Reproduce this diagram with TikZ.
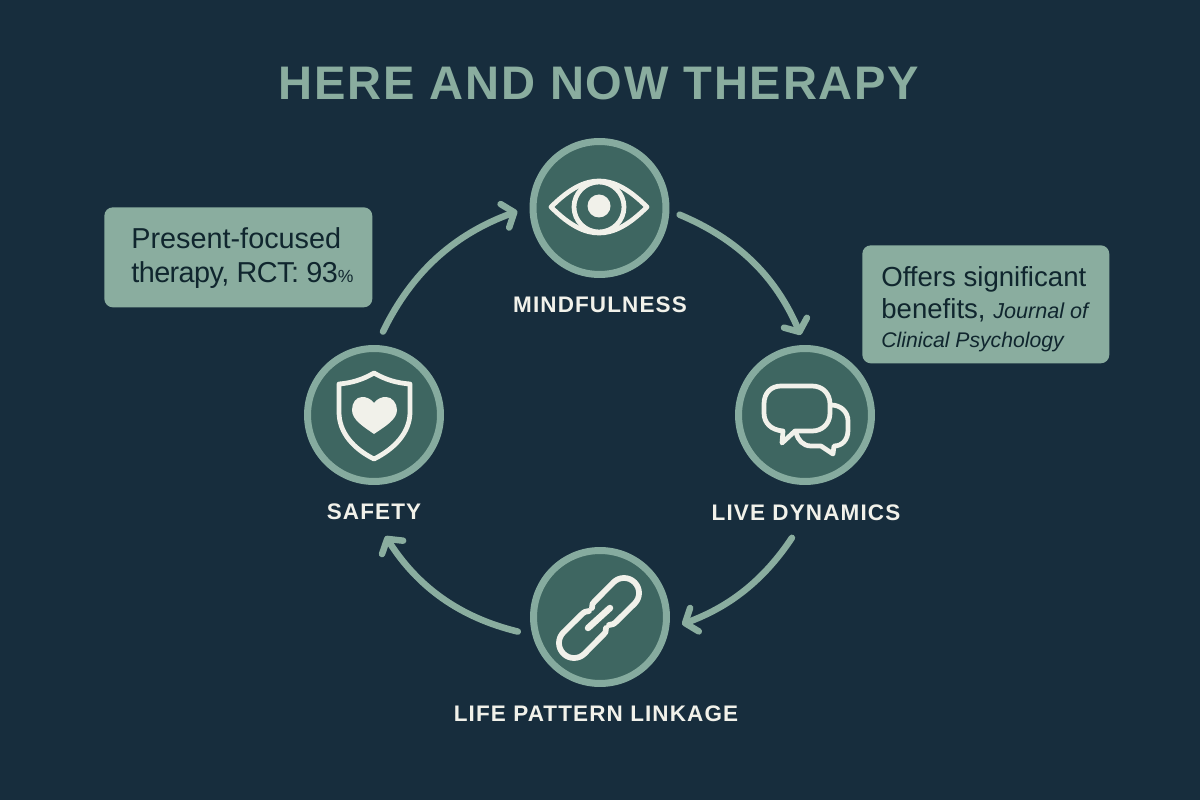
\documentclass[tikz,border=0pt]{standalone}
\usepackage{fontspec}
\setmainfont{Liberation Sans}
\newfontfamily\titlefont[LetterSpace=3.8]{Liberation Sans}
\newfontfamily\capsfont[LetterSpace=5]{Liberation Sans}
\newfontfamily\tightfont[LetterSpace=-2]{Liberation Sans}
\usepackage{xcolor}
\usetikzlibrary{arrows.meta}
\definecolor{bgdark}{HTML}{172D3D}
\definecolor{sage}{HTML}{8AAD9F}
\definecolor{ringsage}{HTML}{86AB9F}
\definecolor{discgreen}{HTML}{3E6661}
\definecolor{ivory}{HTML}{F1F1EA}
\definecolor{boxtext}{HTML}{10262E}
\tikzset{
  disc/.style={circle,draw=ringsage,fill=discgreen,line width=0.14cm,minimum size=2.66cm,inner sep=0pt},
  flow/.style={draw=sage,line width=0.13cm,line cap=round,-{Straight Barb[round,length=0.2cm,width=0.5cm]}},
  caption/.style={text=ivory,font=\capsfont\bfseries\fontsize{12.8}{15}\selectfont,inner sep=0pt,minimum height=0.48cm},
  notebox/.style={fill=sage,rounded corners=0.17cm,anchor=north west,inner sep=0pt},
  notetext/.style={text=boxtext,align=left,inner sep=0pt,anchor=base west},
  icon/.style={draw=ivory,line width=0.095cm,line join=round,line cap=round},
  linkline/.style={icon,line width=0.115cm},
  iconfill/.style={fill=ivory}
}
\begin{document}
\begin{tikzpicture}[x=0.02cm,y=-0.02cm]
 \fill[bgdark] (0,0) rectangle (1200,800);
 \useasboundingbox (0,0) rectangle (1200,800);

 \node[text=sage,font=\titlefont\bfseries\fontsize{26.8}{30}\selectfont,inner sep=0pt] (title) at (599,83) {HERE AND NOW THERAPY};

 \node[disc] (eye) at (599.5,208) {};
 \node[disc] (chat) at (805,415) {};
 \node[disc] (chain) at (600,617) {};
 \node[disc] (shield) at (374,415) {};

 \node[caption] (lblmind) at (600,305) {MINDFULNESS};
 \node[caption] (lbldyn) at (806,513) {LIVE DYNAMICS};
 \node[caption] (lblchain) at (596,714) {LIFE PATTERN LINKAGE};
 \node[caption] (lblsafe) at (374,512) {SAFETY};

 \draw[flow,shorten <=0.22cm,shorten >=0.22cm] (eye.358) to[bend left=22] (chat.90);
 \draw[flow,shorten <=0.3cm,shorten >=0.28cm] (lbldyn.245) to[bend left=18] (chain.350);
 \draw[flow,shorten <=0.3cm,shorten >=0.28cm] (chain.195) to[bend left=22] (lblsafe.288);
 \draw[flow,shorten <=0.3cm,shorten >=0.26cm] (shield.88) to[bend left=22] (eye.179);

 % eye
 \draw[icon] (551,207) .. controls (570,188) and (585,181) .. (599,181) .. controls (613,181) and (628,188) .. (647,207)
   .. controls (628,226) and (613,233) .. (599,233) .. controls (585,233) and (570,226) .. (551,207) -- cycle;
 \draw[icon] (599,207) circle (25);
 \path[iconfill] (599,206) circle (11.5);

 % speech bubbles
 \draw[icon] (781,386) -- (812,386) .. controls (823,386) and (830,394) .. (830,404) -- (830,413)
   .. controls (830,424) and (822,431) .. (812,431) -- (795,431) -- (782,443) -- (783,431)
   .. controls (771,430) and (764,423) .. (764,413) -- (764,404) .. controls (764,393) and (771,386) .. (781,386) -- cycle;
 \draw[icon] (831,405) .. controls (841,405) and (848,412) .. (848,421) -- (848,430)
   .. controls (848,440) and (842,446) .. (834,446) -- (833,454) -- (821,446) -- (811,446)
   .. controls (803,446) and (798,440) .. (796,433);

 % shield with heart
 \draw[icon] (374,373) .. controls (362,380) and (351,383) .. (339,384) -- (339,412)
   .. controls (339,433) and (354,449) .. (374,459) .. controls (394,449) and (410,433) .. (410,412)
   -- (410,384) .. controls (397,383) and (386,380) .. (374,373) -- cycle;
 \path[iconfill] (374,403) .. controls (370,398) and (366,397) .. (362,397) .. controls (356,397) and (352,403) .. (352,410)
   .. controls (352,420) and (364,427) .. (374,434) .. controls (384,427) and (397,420) .. (397,410)
   .. controls (397,403) and (392,397) .. (386,397) .. controls (382,397) and (378,398) .. (374,403) -- cycle;

 % chain links
 \foreach \s in {1,-1} {
 \begin{scope}[shift={(599,618)},xscale=\s,yscale=\s]
  \draw[linkline] (-7,-10) .. controls (-8,-13) and (-6,-15) .. (-3,-18) -- (14.4,-35.6) .. controls (20.3,-41.5) and (29.7,-41.5) .. (35.6,-35.6)
    .. controls (41.5,-29.7) and (41.5,-20.3) .. (35.6,-14.4) -- (18,3) .. controls (15,6) and (13,7) .. (10,7);
 \end{scope}
 }
 \draw[linkline,line width=0.13cm] (588,628) -- (610,608);

 % notes
 \node[notebox,minimum width=5.36cm,minimum height=2cm] (noteleft) at (104,207) {};
 \node[notebox,minimum width=4.94cm,minimum height=2.36cm] (noteright) at (862,245) {};
 \node[notetext,font=\fontsize{16.4}{19.4}\selectfont] (txtleft) at (131,283)
   {Present-focused\\{\tightfont therapy, RCT: 93}{\fontsize{10}{13}\selectfont\%}};
 \node[notetext,font=\fontsize{15.7}{18.6}\selectfont] (txtright) at (881,348)
   {Offers significant\\benefits, {\itshape\fontsize{12.3}{17}\selectfont Journal of}\\[-2pt]{\itshape\fontsize{12.05}{17}\selectfont Clinical Psychology}};
\end{tikzpicture}
\end{document}
